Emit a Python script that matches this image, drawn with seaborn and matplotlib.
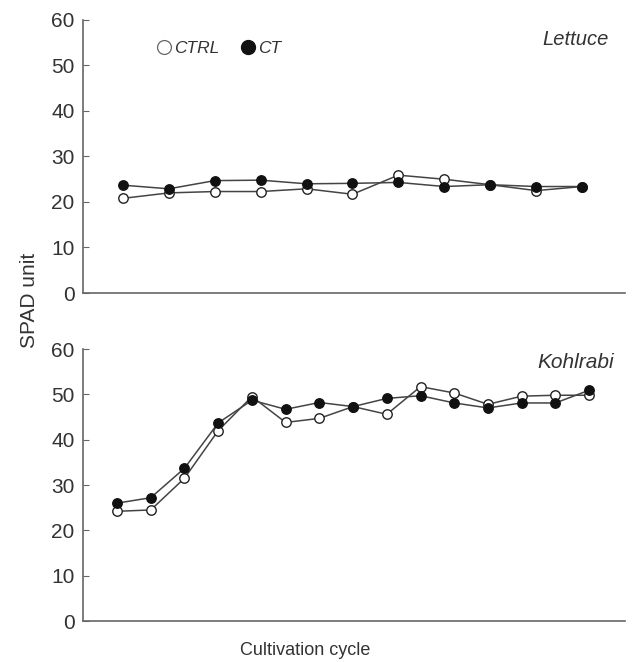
import pandas as pd
import matplotlib
matplotlib.use('Agg')
import matplotlib.pyplot as plt
from matplotlib.lines import Line2D
import seaborn as sns

# SPAD readings, one value per cultivation cycle
lettuce_ctrl = [20.8, 22.0, 22.3, 22.3, 22.9, 21.7, 25.9, 25.0, 23.8, 22.5, 23.4]
lettuce_ct = [23.7, 22.9, 24.7, 24.8, 24.0, 24.1, 24.3, 23.4, 23.8, 23.4, 23.4]
kohlrabi_ctrl = [24.2, 24.5, 31.5, 42.0, 49.5, 43.8, 44.7, 47.3, 45.6, 51.7, 50.3, 47.8, 49.6, 49.8, 49.8]
kohlrabi_ct = [26.0, 27.2, 33.7, 43.7, 48.7, 46.7, 48.2, 47.3, 49.1, 49.7, 48.1, 47.0, 48.1, 48.1, 50.9]
y_ticks = [0, 10, 20, 30, 40, 50, 60]

sns.set_theme(style='white')
plt.rcParams['font.family'] = ['Liberation Sans', 'DejaVu Sans']

grey = '#444444'
txt = '#333333'

fig = plt.figure(figsize=(6.36, 6.62), dpi=100)
ax1 = fig.add_axes([0.1305, 0.5574, 0.8525, 0.4124])
ax2 = fig.add_axes([0.1305, 0.0619, 0.8525, 0.4109])


def draw(ax, ctrl, ct, name, xlim, name_x, name_y, name_size):
    df = pd.DataFrame({'cycle': range(len(ctrl)), 'CTRL': ctrl, 'CT': ct})
    sns.lineplot(data=df, x='cycle', y='CTRL', ax=ax, color=grey, lw=1.1,
                 marker='o', markersize=6.8, markerfacecolor='white',
                 markeredgecolor='#222222', markeredgewidth=1.0)
    sns.lineplot(data=df, x='cycle', y='CT', ax=ax, color=grey, lw=1.1,
                 marker='o', markersize=6.8, markerfacecolor='#111111',
                 markeredgecolor='#111111', markeredgewidth=1.0)
    ax.set_xlim(*xlim)
    ax.set_ylim(0, 60)
    ax.set_yticks(y_ticks)
    ax.set_yticklabels([str(t) for t in y_ticks], fontsize=15, color=txt)
    ax.set_xticks([])
    ax.set_xlabel('')
    ax.set_ylabel('')
    for s in ['top', 'right']:
        ax.spines[s].set_visible(False)
    for s in ['left', 'bottom']:
        ax.spines[s].set_color('#666666')
        ax.spines[s].set_linewidth(1.2)
    ax.tick_params(axis='y', direction='in', length=4, width=0.8,
                   color='#666666', pad=6, left=True)
    ax.text(name_x, name_y, name, transform=ax.transAxes, fontsize=name_size,
            style='italic', color=txt, ha='right', va='center')


draw(ax1, lettuce_ctrl, lettuce_ct, 'Lettuce', (-0.87, 10.94), 0.969, 0.927, 14.5)
draw(ax2, kohlrabi_ctrl, kohlrabi_ct, 'Kohlrabi', (-1.01, 15.07), 0.98, 0.952, 15)

handles = [
    Line2D([], [], ls='none', marker='o', markersize=10, markerfacecolor='white',
           markeredgecolor='#666666', markeredgewidth=0.9),
    Line2D([], [], ls='none', marker='o', markersize=10, markerfacecolor='#111111',
           markeredgecolor='#111111'),
]
leg = ax1.legend(handles, ['CTRL', 'CT'], ncol=2, loc='upper left',
                 bbox_to_anchor=(0.108, 0.98), frameon=False,
                 handlelength=0.8, handletextpad=0.2, columnspacing=1.2,
                 prop={'style': 'italic', 'size': 12.5})
for t in leg.get_texts():
    t.set_color(txt)

fig.text(0.047, 0.547, 'SPAD unit', rotation=90, fontsize=15, color=txt,
         ha='center', va='center')
fig.text(0.48, 0.017, 'Cultivation cycle', fontsize=13, color=txt,
         ha='center', va='center')

fig.savefig('out.png', dpi=100, facecolor='white')
